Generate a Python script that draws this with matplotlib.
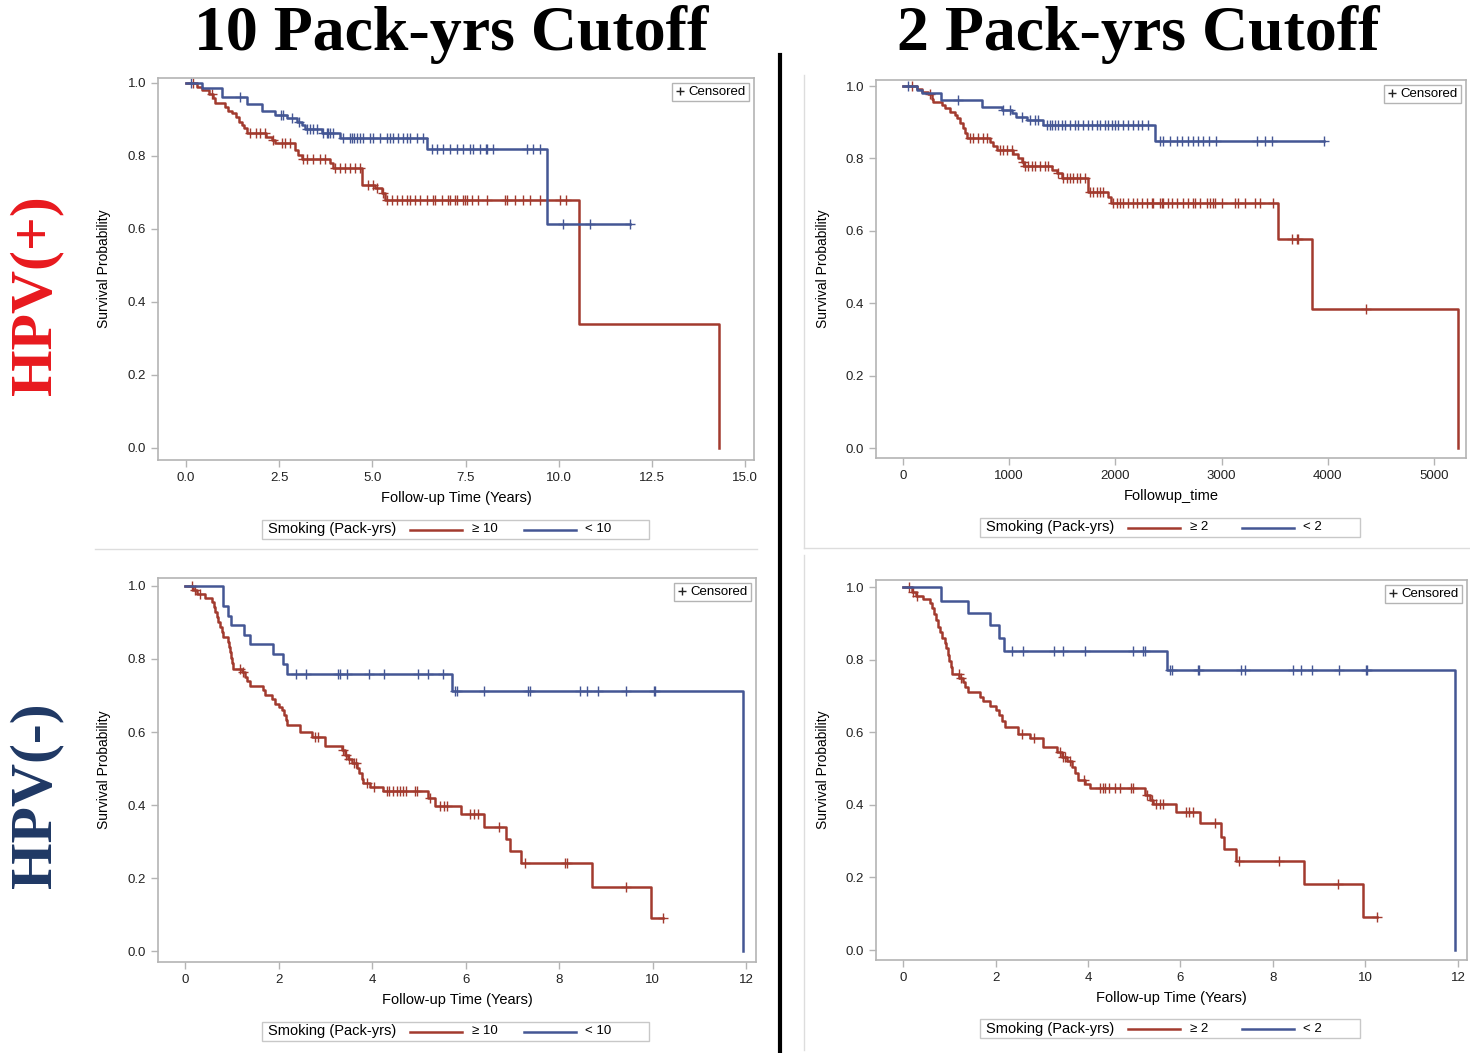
import numpy as np
import matplotlib
matplotlib.use("Agg")
import matplotlib.pyplot as plt
from matplotlib.lines import Line2D
from matplotlib.patches import Rectangle

plt.rcParams['font.family'] = ['Liberation Sans', 'DejaVu Sans']

# ---- data ----
# top-left: HPV(+), 10 pack-yrs cutoff, years
tl_hi_t = [0.29, 0.42, 0.63, 0.73, 0.78, 1.05, 1.14, 1.23, 1.34, 1.43, 1.49, 1.56, 1.63, 2.16, 2.30,
           2.39, 2.92, 3.01, 3.10, 3.86, 3.94, 4.71, 5.07, 5.25, 5.34, 10.54, 14.31]
tl_hi_s = [0.990, 0.981, 0.970, 0.958, 0.944, 0.933, 0.924, 0.917, 0.908, 0.894, 0.885, 0.876, 0.864, 0.853, 0.844,
           0.835, 0.816, 0.803, 0.791, 0.780, 0.766, 0.721, 0.711, 0.698, 0.679, 0.339, 0.0]
tl_hi_cens = [0.20, 0.69, 1.72, 1.88, 1.99, 2.12, 2.34, 2.57, 2.66, 2.79, 3.15, 3.24, 3.42, 3.60, 3.73, 4.00,
              4.13, 4.27, 4.40, 4.53, 4.67, 4.89, 5.03, 5.12, 5.29, 5.38, 5.52, 5.65, 5.79, 5.92, 6.01, 6.14,
              6.28, 6.46, 6.64, 6.68, 6.86, 7.04, 7.08, 7.22, 7.26, 7.44, 7.49, 7.53, 7.67, 7.84, 8.07, 8.56,
              8.60, 8.83, 9.05, 9.23, 9.50, 10.03, 10.19]
tl_lo_t = [0.42, 0.96, 1.63, 2.03, 2.39, 2.70, 2.97, 3.10, 3.19, 3.64, 4.13, 6.46, 9.69]
tl_lo_s = [0.985, 0.961, 0.942, 0.924, 0.912, 0.903, 0.894, 0.885, 0.873, 0.862, 0.850, 0.818, 0.613]
tl_lo_cens = [0.13, 1.45, 2.54, 2.61, 2.84, 3.03, 3.24, 3.33, 3.42, 3.51, 3.68, 3.77, 3.82, 3.86, 3.94, 4.22,
              4.40, 4.46, 4.51, 4.58, 4.67, 4.76, 4.94, 5.02, 5.21, 5.40, 5.47, 5.56, 5.70, 5.83, 5.92, 6.01,
              6.19, 6.37, 6.59, 6.73, 6.90, 7.08, 7.26, 7.44, 7.62, 7.71, 7.89, 8.05, 8.08, 8.23, 9.14, 9.32,
              9.50, 10.12, 10.84, 11.91]

# top-right: HPV(+), 2 pack-yrs cutoff, days
tr_hi_t = [129, 176, 239, 270, 286, 364, 395, 443, 490, 511, 537, 562, 584, 606, 819, 851, 882, 1039, 1086,
           1117, 1139, 1400, 1447, 1494, 1745, 1933, 1956, 3534, 3848, 5229]
tr_hi_s = [0.992, 0.984, 0.977, 0.964, 0.955, 0.948, 0.938, 0.929, 0.920, 0.911, 0.897, 0.883, 0.869, 0.856,
           0.846, 0.835, 0.823, 0.811, 0.802, 0.791, 0.780, 0.768, 0.759, 0.747, 0.708, 0.694, 0.676, 0.577,
           0.383, 0.0]
tr_hi_cens = [82, 254, 631, 662, 709, 756, 788, 913, 945, 976, 1023, 1133, 1149, 1180, 1212, 1243, 1290, 1337,
              1368, 1463, 1510, 1541, 1573, 1604, 1635, 1667, 1714, 1761, 1792, 1824, 1855, 1886, 1980, 2012,
              2043, 2074, 2122, 2169, 2200, 2247, 2294, 2342, 2357, 2420, 2436, 2451, 2498, 2530, 2577, 2639,
              2687, 2734, 2750, 2797, 2860, 2891, 2922, 2938, 3001, 3126, 3157, 3220, 3315, 3362, 3481, 3660,
              3707, 3723, 4360]
tr_lo_t = [129, 176, 355, 741, 929, 1023, 1064, 1165, 1321, 2373]
tr_lo_s = [0.989, 0.982, 0.961, 0.943, 0.934, 0.925, 0.915, 0.906, 0.892, 0.849]
tr_lo_cens = [50, 521, 945, 1008, 1117, 1196, 1243, 1274, 1353, 1384, 1400, 1431, 1463, 1494, 1525, 1573, 1620,
              1651, 1698, 1745, 1776, 1824, 1855, 1902, 1933, 1965, 1996, 2028, 2074, 2122, 2169, 2216, 2247,
              2310, 2420, 2451, 2514, 2577, 2624, 2687, 2734, 2781, 2828, 2884, 2947, 3330, 3409, 3472, 3964]

# bottom-left: HPV(-), 10 pack-yrs cutoff, years
bl_hi_t = [0.18, 0.25, 0.43, 0.57, 0.61, 0.64, 0.68, 0.71, 0.75, 0.78, 0.81, 0.91, 0.93, 0.96, 0.98, 1.01,
           1.03, 1.21, 1.28, 1.33, 1.39, 1.67, 1.71, 1.85, 1.93, 2.00, 2.07, 2.12, 2.16, 2.19, 2.46, 2.71,
           2.99, 3.35, 3.42, 3.49, 3.57, 3.67, 3.73, 3.78, 3.81, 3.96, 4.24, 5.20, 5.35, 5.90, 6.40, 6.87,
           6.95, 7.18, 8.70, 9.96]
bl_hi_s = [0.989, 0.977, 0.966, 0.957, 0.943, 0.930, 0.916, 0.902, 0.889, 0.875, 0.861, 0.847, 0.834, 0.818,
           0.802, 0.788, 0.773, 0.765, 0.752, 0.740, 0.727, 0.715, 0.701, 0.690, 0.678, 0.669, 0.660, 0.647,
           0.633, 0.619, 0.601, 0.587, 0.562, 0.551, 0.537, 0.526, 0.514, 0.502, 0.487, 0.471, 0.459, 0.450,
           0.438, 0.418, 0.398, 0.375, 0.341, 0.306, 0.275, 0.240, 0.176, 0.091]
bl_hi_cens = [0.14, 0.21, 0.31, 1.18, 1.25, 2.78, 2.85, 3.37, 3.44, 3.51, 3.61, 3.66, 3.89, 4.04, 4.31, 4.37,
              4.44, 4.53, 4.60, 4.67, 4.73, 4.92, 4.96, 5.24, 5.45, 5.53, 5.60, 6.10, 6.17, 6.27, 6.72, 7.27,
              8.13, 8.16, 9.43, 10.23]
bl_lo_t = [0.81, 0.91, 0.98, 1.26, 1.38, 1.89, 2.09, 2.17, 5.70, 11.94]
bl_lo_s = [0.946, 0.919, 0.893, 0.866, 0.840, 0.813, 0.786, 0.760, 0.712, 0.0]
bl_lo_cens = [2.37, 2.58, 3.28, 3.32, 3.47, 3.94, 4.26, 4.99, 5.20, 5.52, 5.78, 5.81, 6.40, 7.34, 7.38, 8.45,
              8.59, 8.84, 9.43, 10.02, 10.05]

# bottom-right: HPV(-), 2 pack-yrs cutoff, years
br_hi_t = [0.19, 0.28, 0.44, 0.58, 0.62, 0.66, 0.71, 0.76, 0.80, 0.84, 0.91, 0.94, 0.98, 1.00, 1.03, 1.05,
           1.22, 1.29, 1.34, 1.41, 1.66, 1.74, 1.88, 2.01, 2.08, 2.13, 2.21, 2.49, 2.75, 3.02, 3.34, 3.43,
           3.54, 3.65, 3.72, 3.79, 3.94, 4.04, 5.23, 5.34, 5.41, 5.90, 6.42, 6.87, 6.94, 7.20, 8.67, 9.95]
br_hi_s = [0.987, 0.976, 0.967, 0.955, 0.941, 0.925, 0.909, 0.891, 0.877, 0.860, 0.845, 0.831, 0.813, 0.796,
           0.780, 0.760, 0.748, 0.737, 0.725, 0.712, 0.698, 0.686, 0.673, 0.661, 0.647, 0.632, 0.615, 0.594,
           0.583, 0.560, 0.546, 0.533, 0.521, 0.505, 0.487, 0.468, 0.456, 0.445, 0.427, 0.413, 0.401, 0.379,
           0.349, 0.312, 0.278, 0.245, 0.182, 0.090]
br_hi_cens = [0.14, 0.21, 0.30, 1.20, 1.25, 2.57, 2.83, 3.39, 3.45, 3.50, 3.60, 3.91, 4.26, 4.32, 4.37, 4.46,
              4.58, 4.69, 4.92, 4.97, 5.28, 5.38, 5.47, 5.56, 5.63, 6.12, 6.19, 6.28, 6.75, 7.27, 8.14, 9.41,
              10.24]
br_lo_t = [0.82, 1.41, 1.88, 2.08, 2.18, 5.70, 11.94]
br_lo_s = [0.961, 0.928, 0.895, 0.860, 0.824, 0.771, 0.0]
br_lo_cens = [2.36, 2.59, 3.27, 3.45, 3.94, 4.98, 5.18, 5.23, 5.77, 5.81, 6.38, 6.40, 7.30, 7.39, 8.44, 8.61,
              8.84, 9.43, 10.01, 10.04]

RED = '#A23A2E'
BLUE = '#445694'
GRID = '#b4b4b4'

W, H = 1470, 1053
fig = plt.figure(figsize=(W / 100, H / 100), dpi=100)


def fx(px):
    return px / W


def fy(py):
    return 1 - py / H


def km(ax, t, s, cens, color):
    x = [0.0] + list(t)
    y = [1.0] + list(s)
    if max(cens) > x[-1]:
        x.append(max(cens))
        y.append(y[-1])
    ax.step(x, y, where='post', color=color, lw=1.8)
    idx = np.searchsorted(x, cens, side='right') - 1
    ax.plot(cens, np.array(y)[idx], ls='none', marker='+', ms=6.5, mew=1.0, color=color)


def panel(box, xlim, ylim, xticks, xfmt, xlabel):
    l, r, t, b = box
    ax = fig.add_axes([fx(l), fy(b), fx(r) - fx(l), fy(t) - fy(b)])
    ax.set_xlim(*xlim)
    ax.set_ylim(*ylim)
    ax.set_xticks(xticks)
    ax.set_xticklabels([xfmt.format(v) for v in xticks])
    ax.set_yticks([0, 0.2, 0.4, 0.6, 0.8, 1.0])
    ax.set_yticklabels(['0.0', '0.2', '0.4', '0.6', '0.8', '1.0'])
    for sp in ax.spines.values():
        sp.set_color(GRID)
        sp.set_linewidth(1.2)
    ax.tick_params(colors=GRID, labelcolor='#222222', labelsize=9.5, length=5, width=1)
    ax.text(-0.09, 0.5, 'Survival Probability', rotation=90, ha='center', va='center',
            fontsize=10, transform=ax.transAxes)
    ax.text(0.5, -0.1, xlabel, ha='center', va='center', fontsize=10.5, transform=ax.transAxes)
    h = Line2D([], [], ls='none', marker='+', color='#222222', ms=6, mew=1)
    lg = ax.legend([h], ['Censored'], loc='upper right', fontsize=9.5, handlelength=0.6,
                   handletextpad=0.4, borderpad=0.25, borderaxespad=0.35, fancybox=False,
                   framealpha=1, edgecolor=GRID)
    lg.get_frame().set_linewidth(1)
    return ax


def legend_box(x0, y0, x1, y1, hi_lab, lo_lab):
    fig.add_artist(Rectangle((fx(x0), fy(y1)), fx(x1) - fx(x0), fy(y0) - fy(y1),
                             transform=fig.transFigure, fill=False, edgecolor='#c8c8c8', lw=1))
    ym = fy((y0 + y1) / 2)
    fig.text(fx(x0 + 6), ym, 'Smoking (Pack-yrs)', fontsize=10.5, va='center', ha='left')
    fig.add_artist(Line2D([fx(x0 + 148), fx(x0 + 200)], [ym, ym], color=RED, lw=1.8))
    fig.text(fx(x0 + 210), ym, hi_lab, fontsize=9.5, va='center', ha='left')
    fig.add_artist(Line2D([fx(x0 + 262), fx(x0 + 314)], [ym, ym], color=BLUE, lw=1.8))
    fig.text(fx(x0 + 323), ym, lo_lab, fontsize=9.5, va='center', ha='left')


ax1 = panel((158, 754, 78, 460), (-0.751, 15.24), (-0.033, 1.0137),
            [0, 2.5, 5, 7.5, 10, 12.5, 15], '{:.1f}', 'Follow-up Time (Years)')
km(ax1, tl_hi_t, tl_hi_s, tl_hi_cens, RED)
km(ax1, tl_lo_t, tl_lo_s, tl_lo_cens, BLUE)

ax2 = panel((876, 1466, 80, 458), (-254, 5301), (-0.0276, 1.0166),
            [0, 1000, 2000, 3000, 4000, 5000], '{:.0f}', 'Followup_time')
km(ax2, tr_hi_t, tr_hi_s, tr_hi_cens, RED)
km(ax2, tr_lo_t, tr_lo_s, tr_lo_cens, BLUE)

ax3 = panel((158, 756, 578, 962), (-0.578, 12.21), (-0.0301, 1.0219),
            [0, 2, 4, 6, 8, 10, 12], '{:.0f}', 'Follow-up Time (Years)')
km(ax3, bl_hi_t, bl_hi_s, bl_hi_cens, RED)
km(ax3, bl_lo_t, bl_lo_s, bl_lo_cens, BLUE)

ax4 = panel((876, 1467, 580, 960), (-0.584, 12.195), (-0.0275, 1.0193),
            [0, 2, 4, 6, 8, 10, 12], '{:.0f}', 'Follow-up Time (Years)')
km(ax4, br_hi_t, br_hi_s, br_hi_cens, RED)
km(ax4, br_lo_t, br_lo_s, br_lo_cens, BLUE)

legend_box(262, 520, 649, 539, '\u2265 10', '< 10')
legend_box(980, 518, 1360, 537, '\u2265 2', '< 2')
legend_box(262, 1022, 649, 1041, '\u2265 10', '< 10')
legend_box(980, 1019, 1360, 1038, '\u2265 2', '< 2')

# light panel borders
for xs, ys in [((95, 757), (549, 549)), ((804, 1470), (548, 548)),
               ((804, 804), (75, 548)), ((804, 804), (555, 1050))]:
    fig.add_artist(Line2D([fx(xs[0]), fx(xs[1])], [fy(ys[0]), fy(ys[1])], color='#dddddd', lw=1))

# heavy divider
fig.add_artist(Line2D([fx(780), fx(780)], [fy(55), fy(1053)], color='black', lw=3))

# titles and row labels
fig.text(fx(451), fy(35), '10 Pack-yrs Cutoff', fontsize=46, fontweight='bold',
         family='Liberation Serif', ha='center', va='center')
fig.text(fx(1138), fy(35), '2 Pack-yrs Cutoff', fontsize=46, fontweight='bold',
         family='Liberation Serif', ha='center', va='center')
fig.text(fx(36), fy(295), 'HPV(+)', fontsize=43, fontweight='bold', family='Liberation Serif',
         color='#E8191E', rotation=90, ha='center', va='center')
fig.text(fx(36), fy(795), 'HPV(-)', fontsize=43, fontweight='bold', family='Liberation Serif',
         color='#1F3864', rotation=90, ha='center', va='center')

fig.savefig('out.png', dpi=100, facecolor='white')
